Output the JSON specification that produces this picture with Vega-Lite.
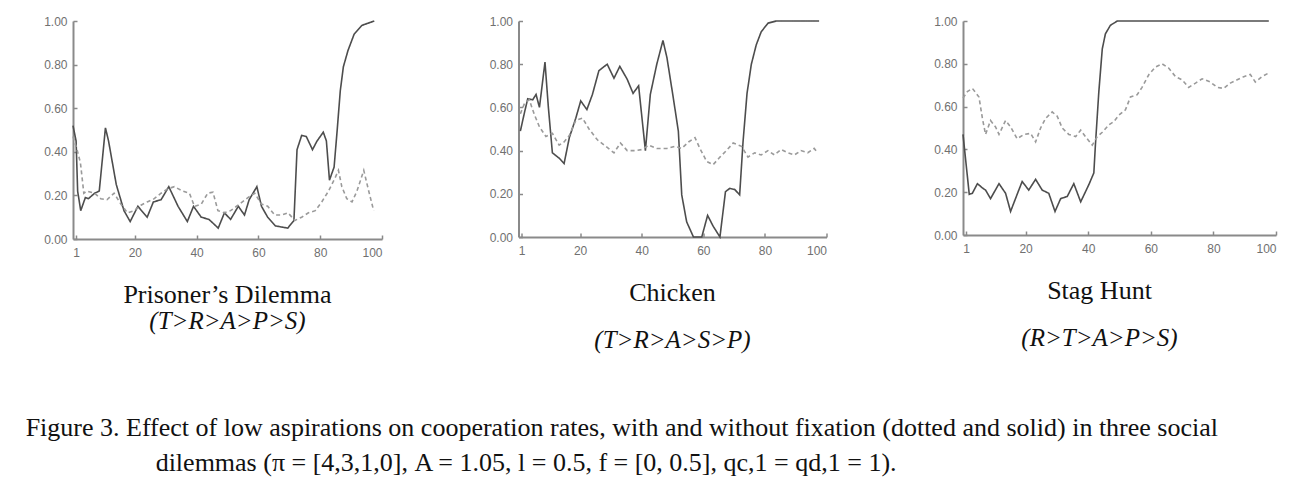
{
  "$schema": "https://vega.github.io/schema/vega-lite/v6.json",
  "padding": {"left": 25, "top": 15, "right": 5, "bottom": 5},
  "background": "white",
  "config": {
    "font": "Liberation Sans",
    "view": {"stroke": null},
    "axis": {"domainColor": "#8a8a8a", "domainWidth": 2, "tickColor": "#8a8a8a", "tickWidth": 1.5, "labelColor": "#707070", "labelFontSize": 12, "grid": false, "title": null},
    "title": {"font": "Liberation Serif", "fontSize": 26, "fontWeight": "normal", "color": "#111111", "orient": "bottom", "frame": "group", "subtitleFont": "Liberation Serif", "subtitleFontSize": 25, "subtitleFontStyle": "italic", "subtitleColor": "#111111"}
  },
  "datasets": {
    "pd": [
      {"t": 0, "v": 0.52, "s": "solid"}, {"t": 1, "v": 0.45, "s": "solid"}, {"t": 1.5, "v": 0.22, "s": "solid"}, {"t": 2.5, "v": 0.13, "s": "solid"},
      {"t": 4, "v": 0.19, "s": "solid"}, {"t": 5, "v": 0.185, "s": "solid"}, {"t": 7, "v": 0.21, "s": "solid"}, {"t": 8.5, "v": 0.22, "s": "solid"},
      {"t": 10.5, "v": 0.51, "s": "solid"}, {"t": 11.5, "v": 0.45, "s": "solid"}, {"t": 14, "v": 0.25, "s": "solid"}, {"t": 16.5, "v": 0.13, "s": "solid"},
      {"t": 18.5, "v": 0.08, "s": "solid"}, {"t": 21, "v": 0.15, "s": "solid"}, {"t": 24, "v": 0.1, "s": "solid"}, {"t": 26, "v": 0.17, "s": "solid"},
      {"t": 28.5, "v": 0.18, "s": "solid"}, {"t": 31, "v": 0.24, "s": "solid"}, {"t": 34, "v": 0.15, "s": "solid"}, {"t": 37, "v": 0.08, "s": "solid"},
      {"t": 39, "v": 0.15, "s": "solid"}, {"t": 41.5, "v": 0.1, "s": "solid"}, {"t": 44, "v": 0.09, "s": "solid"}, {"t": 47, "v": 0.05, "s": "solid"},
      {"t": 49, "v": 0.12, "s": "solid"}, {"t": 51, "v": 0.09, "s": "solid"}, {"t": 53.5, "v": 0.15, "s": "solid"}, {"t": 55.5, "v": 0.11, "s": "solid"},
      {"t": 57, "v": 0.18, "s": "solid"}, {"t": 59.5, "v": 0.24, "s": "solid"}, {"t": 61, "v": 0.15, "s": "solid"}, {"t": 63, "v": 0.1, "s": "solid"},
      {"t": 65.5, "v": 0.06, "s": "solid"}, {"t": 67.5, "v": 0.055, "s": "solid"}, {"t": 69.5, "v": 0.05, "s": "solid"}, {"t": 71.5, "v": 0.085, "s": "solid"},
      {"t": 72.5, "v": 0.41, "s": "solid"}, {"t": 74, "v": 0.475, "s": "solid"}, {"t": 75.5, "v": 0.47, "s": "solid"}, {"t": 77.5, "v": 0.41, "s": "solid"},
      {"t": 79, "v": 0.45, "s": "solid"}, {"t": 81, "v": 0.49, "s": "solid"}, {"t": 82, "v": 0.45, "s": "solid"}, {"t": 83, "v": 0.27, "s": "solid"},
      {"t": 84.5, "v": 0.33, "s": "solid"}, {"t": 85.5, "v": 0.5, "s": "solid"}, {"t": 86.5, "v": 0.68, "s": "solid"}, {"t": 87.5, "v": 0.79, "s": "solid"},
      {"t": 89, "v": 0.865, "s": "solid"}, {"t": 91, "v": 0.94, "s": "solid"}, {"t": 93.5, "v": 0.98, "s": "solid"}, {"t": 97.5, "v": 1.0, "s": "solid"},
      {"t": 0, "v": 0.47, "s": "dotted"}, {"t": 1.3, "v": 0.41, "s": "dotted"}, {"t": 2.4, "v": 0.35, "s": "dotted"}, {"t": 3.5, "v": 0.21, "s": "dotted"},
      {"t": 4.5, "v": 0.22, "s": "dotted"}, {"t": 7, "v": 0.21, "s": "dotted"}, {"t": 9, "v": 0.185, "s": "dotted"}, {"t": 11, "v": 0.18, "s": "dotted"},
      {"t": 13.3, "v": 0.21, "s": "dotted"}, {"t": 15.5, "v": 0.16, "s": "dotted"}, {"t": 17.6, "v": 0.12, "s": "dotted"}, {"t": 19.8, "v": 0.13, "s": "dotted"},
      {"t": 22, "v": 0.155, "s": "dotted"}, {"t": 24, "v": 0.17, "s": "dotted"}, {"t": 26.3, "v": 0.185, "s": "dotted"}, {"t": 28.5, "v": 0.21, "s": "dotted"},
      {"t": 30.6, "v": 0.23, "s": "dotted"}, {"t": 32.8, "v": 0.24, "s": "dotted"}, {"t": 35.5, "v": 0.22, "s": "dotted"}, {"t": 37.7, "v": 0.21, "s": "dotted"},
      {"t": 39.3, "v": 0.15, "s": "dotted"}, {"t": 41.5, "v": 0.16, "s": "dotted"}, {"t": 43.6, "v": 0.21, "s": "dotted"}, {"t": 45.3, "v": 0.215, "s": "dotted"},
      {"t": 46.9, "v": 0.13, "s": "dotted"}, {"t": 49, "v": 0.12, "s": "dotted"}, {"t": 51, "v": 0.13, "s": "dotted"}, {"t": 53.4, "v": 0.155, "s": "dotted"},
      {"t": 56.6, "v": 0.19, "s": "dotted"}, {"t": 58.8, "v": 0.21, "s": "dotted"}, {"t": 61, "v": 0.16, "s": "dotted"}, {"t": 63, "v": 0.15, "s": "dotted"},
      {"t": 65.3, "v": 0.11, "s": "dotted"}, {"t": 67.5, "v": 0.11, "s": "dotted"}, {"t": 69.6, "v": 0.12, "s": "dotted"}, {"t": 71.8, "v": 0.085, "s": "dotted"},
      {"t": 74, "v": 0.1, "s": "dotted"}, {"t": 76.2, "v": 0.12, "s": "dotted"}, {"t": 78.4, "v": 0.13, "s": "dotted"}, {"t": 80.5, "v": 0.17, "s": "dotted"},
      {"t": 82.7, "v": 0.22, "s": "dotted"}, {"t": 84.8, "v": 0.28, "s": "dotted"}, {"t": 85.9, "v": 0.315, "s": "dotted"}, {"t": 87, "v": 0.24, "s": "dotted"},
      {"t": 88.6, "v": 0.185, "s": "dotted"}, {"t": 90.3, "v": 0.17, "s": "dotted"}, {"t": 91.9, "v": 0.22, "s": "dotted"}, {"t": 94.1, "v": 0.315, "s": "dotted"},
      {"t": 95.7, "v": 0.22, "s": "dotted"}, {"t": 97.3, "v": 0.13, "s": "dotted"}
    ],
    "chicken": [
      {"t": 0.6, "v": 0.49, "s": "solid"}, {"t": 2, "v": 0.58, "s": "solid"}, {"t": 3, "v": 0.64, "s": "solid"}, {"t": 4.6, "v": 0.635, "s": "solid"},
      {"t": 5.7, "v": 0.66, "s": "solid"}, {"t": 6.8, "v": 0.6, "s": "solid"}, {"t": 8.6, "v": 0.81, "s": "solid"}, {"t": 9.7, "v": 0.6, "s": "solid"},
      {"t": 11, "v": 0.39, "s": "solid"}, {"t": 13.2, "v": 0.365, "s": "solid"}, {"t": 14.8, "v": 0.34, "s": "solid"}, {"t": 16.5, "v": 0.46, "s": "solid"},
      {"t": 18.6, "v": 0.55, "s": "solid"}, {"t": 20.2, "v": 0.63, "s": "solid"}, {"t": 22.2, "v": 0.59, "s": "solid"}, {"t": 24, "v": 0.66, "s": "solid"},
      {"t": 26.1, "v": 0.77, "s": "solid"}, {"t": 28.8, "v": 0.8, "s": "solid"}, {"t": 31, "v": 0.735, "s": "solid"}, {"t": 32.9, "v": 0.79, "s": "solid"},
      {"t": 35.3, "v": 0.73, "s": "solid"}, {"t": 37.2, "v": 0.665, "s": "solid"}, {"t": 39, "v": 0.7, "s": "solid"}, {"t": 41.2, "v": 0.4, "s": "solid"},
      {"t": 42.8, "v": 0.66, "s": "solid"}, {"t": 44.9, "v": 0.8, "s": "solid"}, {"t": 46.9, "v": 0.91, "s": "solid"}, {"t": 48.2, "v": 0.83, "s": "solid"},
      {"t": 50.3, "v": 0.64, "s": "solid"}, {"t": 51.9, "v": 0.49, "s": "solid"}, {"t": 53, "v": 0.195, "s": "solid"}, {"t": 54.6, "v": 0.07, "s": "solid"},
      {"t": 56.8, "v": 0.0, "s": "solid"}, {"t": 59.5, "v": 0.0, "s": "solid"}, {"t": 61.4, "v": 0.1, "s": "solid"}, {"t": 63.2, "v": 0.05, "s": "solid"},
      {"t": 65.4, "v": 0.0, "s": "solid"}, {"t": 67.2, "v": 0.21, "s": "solid"}, {"t": 68.6, "v": 0.225, "s": "solid"}, {"t": 70.2, "v": 0.22, "s": "solid"},
      {"t": 71.8, "v": 0.195, "s": "solid"}, {"t": 72.9, "v": 0.44, "s": "solid"}, {"t": 74.2, "v": 0.665, "s": "solid"}, {"t": 75.6, "v": 0.8, "s": "solid"},
      {"t": 77.2, "v": 0.89, "s": "solid"}, {"t": 78.8, "v": 0.95, "s": "solid"}, {"t": 81, "v": 0.99, "s": "solid"}, {"t": 83.7, "v": 1.0, "s": "solid"},
      {"t": 97.6, "v": 1.0, "s": "solid"},
      {"t": 0.6, "v": 0.57, "s": "dotted"}, {"t": 2, "v": 0.62, "s": "dotted"}, {"t": 3.5, "v": 0.635, "s": "dotted"}, {"t": 5.2, "v": 0.565, "s": "dotted"},
      {"t": 6.8, "v": 0.51, "s": "dotted"}, {"t": 8.9, "v": 0.465, "s": "dotted"}, {"t": 11, "v": 0.48, "s": "dotted"}, {"t": 13.2, "v": 0.425, "s": "dotted"},
      {"t": 14.8, "v": 0.44, "s": "dotted"}, {"t": 16.5, "v": 0.47, "s": "dotted"}, {"t": 18.6, "v": 0.54, "s": "dotted"}, {"t": 20.8, "v": 0.55, "s": "dotted"},
      {"t": 22.9, "v": 0.5, "s": "dotted"}, {"t": 25.6, "v": 0.45, "s": "dotted"}, {"t": 28.3, "v": 0.42, "s": "dotted"}, {"t": 31, "v": 0.39, "s": "dotted"},
      {"t": 33.1, "v": 0.435, "s": "dotted"}, {"t": 35.3, "v": 0.4, "s": "dotted"}, {"t": 38, "v": 0.4, "s": "dotted"}, {"t": 40.1, "v": 0.405, "s": "dotted"},
      {"t": 42.3, "v": 0.425, "s": "dotted"}, {"t": 44.9, "v": 0.41, "s": "dotted"}, {"t": 48.2, "v": 0.41, "s": "dotted"}, {"t": 50.8, "v": 0.42, "s": "dotted"},
      {"t": 53, "v": 0.41, "s": "dotted"}, {"t": 55.2, "v": 0.44, "s": "dotted"}, {"t": 57.3, "v": 0.46, "s": "dotted"}, {"t": 58.9, "v": 0.41, "s": "dotted"},
      {"t": 61.1, "v": 0.35, "s": "dotted"}, {"t": 63.2, "v": 0.335, "s": "dotted"}, {"t": 65.4, "v": 0.37, "s": "dotted"}, {"t": 67.5, "v": 0.4, "s": "dotted"},
      {"t": 69.7, "v": 0.435, "s": "dotted"}, {"t": 72.4, "v": 0.42, "s": "dotted"}, {"t": 74.5, "v": 0.37, "s": "dotted"}, {"t": 76.7, "v": 0.39, "s": "dotted"},
      {"t": 78.8, "v": 0.38, "s": "dotted"}, {"t": 81, "v": 0.4, "s": "dotted"}, {"t": 83.1, "v": 0.38, "s": "dotted"}, {"t": 85.3, "v": 0.405, "s": "dotted"},
      {"t": 87.4, "v": 0.39, "s": "dotted"}, {"t": 89.6, "v": 0.38, "s": "dotted"}, {"t": 91.7, "v": 0.4, "s": "dotted"}, {"t": 93.9, "v": 0.39, "s": "dotted"},
      {"t": 96, "v": 0.41, "s": "dotted"}, {"t": 96.8, "v": 0.395, "s": "dotted"}
    ],
    "stag": [
      {"t": 0, "v": 0.47, "s": "solid"}, {"t": 1, "v": 0.33, "s": "solid"}, {"t": 2, "v": 0.19, "s": "solid"}, {"t": 3, "v": 0.195, "s": "solid"},
      {"t": 4.6, "v": 0.24, "s": "solid"}, {"t": 6.2, "v": 0.22, "s": "solid"}, {"t": 7.2, "v": 0.21, "s": "solid"}, {"t": 8.8, "v": 0.17, "s": "solid"},
      {"t": 11.5, "v": 0.24, "s": "solid"}, {"t": 13.6, "v": 0.195, "s": "solid"}, {"t": 15.2, "v": 0.11, "s": "solid"}, {"t": 17.3, "v": 0.19, "s": "solid"},
      {"t": 18.9, "v": 0.25, "s": "solid"}, {"t": 21, "v": 0.21, "s": "solid"}, {"t": 23.2, "v": 0.26, "s": "solid"}, {"t": 25.3, "v": 0.21, "s": "solid"},
      {"t": 27.4, "v": 0.195, "s": "solid"}, {"t": 29.4, "v": 0.11, "s": "solid"}, {"t": 31.2, "v": 0.17, "s": "solid"}, {"t": 33.3, "v": 0.18, "s": "solid"},
      {"t": 35.4, "v": 0.24, "s": "solid"}, {"t": 37.6, "v": 0.155, "s": "solid"}, {"t": 40.2, "v": 0.235, "s": "solid"}, {"t": 41.8, "v": 0.29, "s": "solid"},
      {"t": 42.3, "v": 0.42, "s": "solid"}, {"t": 43.4, "v": 0.67, "s": "solid"}, {"t": 44.5, "v": 0.87, "s": "solid"}, {"t": 45.5, "v": 0.94, "s": "solid"},
      {"t": 47.1, "v": 0.98, "s": "solid"}, {"t": 49.3, "v": 1.0, "s": "solid"}, {"t": 97.7, "v": 1.0, "s": "solid"},
      {"t": 0, "v": 0.64, "s": "dotted"}, {"t": 1.4, "v": 0.67, "s": "dotted"}, {"t": 3, "v": 0.685, "s": "dotted"}, {"t": 5.1, "v": 0.645, "s": "dotted"},
      {"t": 6.2, "v": 0.545, "s": "dotted"}, {"t": 7.2, "v": 0.47, "s": "dotted"}, {"t": 8.8, "v": 0.535, "s": "dotted"}, {"t": 10.4, "v": 0.505, "s": "dotted"},
      {"t": 11.5, "v": 0.47, "s": "dotted"}, {"t": 13.6, "v": 0.535, "s": "dotted"}, {"t": 15.2, "v": 0.505, "s": "dotted"}, {"t": 17.3, "v": 0.45, "s": "dotted"},
      {"t": 19.5, "v": 0.47, "s": "dotted"}, {"t": 21.6, "v": 0.475, "s": "dotted"}, {"t": 23.2, "v": 0.435, "s": "dotted"}, {"t": 24.8, "v": 0.5, "s": "dotted"},
      {"t": 26.4, "v": 0.545, "s": "dotted"}, {"t": 28.5, "v": 0.575, "s": "dotted"}, {"t": 30.1, "v": 0.555, "s": "dotted"}, {"t": 31.7, "v": 0.5, "s": "dotted"},
      {"t": 33.8, "v": 0.47, "s": "dotted"}, {"t": 36, "v": 0.46, "s": "dotted"}, {"t": 37.6, "v": 0.49, "s": "dotted"}, {"t": 39.1, "v": 0.46, "s": "dotted"},
      {"t": 41.3, "v": 0.42, "s": "dotted"}, {"t": 42.9, "v": 0.46, "s": "dotted"}, {"t": 44.5, "v": 0.48, "s": "dotted"}, {"t": 46.6, "v": 0.515, "s": "dotted"},
      {"t": 48.2, "v": 0.53, "s": "dotted"}, {"t": 49.8, "v": 0.56, "s": "dotted"}, {"t": 51.9, "v": 0.585, "s": "dotted"}, {"t": 53.5, "v": 0.645, "s": "dotted"},
      {"t": 55.6, "v": 0.655, "s": "dotted"}, {"t": 57.2, "v": 0.69, "s": "dotted"}, {"t": 59.4, "v": 0.75, "s": "dotted"}, {"t": 61.5, "v": 0.785, "s": "dotted"},
      {"t": 63.6, "v": 0.8, "s": "dotted"}, {"t": 65.7, "v": 0.78, "s": "dotted"}, {"t": 67.9, "v": 0.74, "s": "dotted"}, {"t": 70, "v": 0.725, "s": "dotted"},
      {"t": 72.1, "v": 0.69, "s": "dotted"}, {"t": 74.3, "v": 0.71, "s": "dotted"}, {"t": 76.4, "v": 0.73, "s": "dotted"}, {"t": 79, "v": 0.715, "s": "dotted"},
      {"t": 81.2, "v": 0.69, "s": "dotted"}, {"t": 83.3, "v": 0.685, "s": "dotted"}, {"t": 85.4, "v": 0.71, "s": "dotted"}, {"t": 87.6, "v": 0.725, "s": "dotted"},
      {"t": 89.7, "v": 0.74, "s": "dotted"}, {"t": 91.8, "v": 0.75, "s": "dotted"}, {"t": 93.4, "v": 0.715, "s": "dotted"}, {"t": 95.5, "v": 0.74, "s": "dotted"},
      {"t": 97.4, "v": 0.755, "s": "dotted"}
    ]
  },
  "bounds": "flush",
  "spacing": 136.5,
  "title": {
    "text": ["Figure 3. Effect of low aspirations on cooperation rates, with and without fixation (dotted  and solid) in three social", "\u200b\u00a0\u00a0\u00a0\u00a0\u00a0\u00a0\u00a0\u00a0\u00a0\u00a0\u00a0\u00a0\u00a0\u00a0\u00a0\u00a0\u00a0\u00a0\u00a0\u00a0dilemmas (π = [4,3,1,0], A = 1.05, l = 0.5, f = [0, 0.5], qc,1 = qd,1 = 1)."],
    "orient": "bottom", "anchor": "start", "frame": "bounds", "font": "Liberation Serif", "fontSize": 26, "fontWeight": "normal", "fontStyle": "normal", "color": "#111111", "lineHeight": 35, "offset": 62, "dx": -18
  },
  "hconcat": [
    {
      "width": 309, "height": 218,
      "data": {"name": "pd"},
      "title": {"text": "Prisoner’s Dilemma", "subtitle": "(T>R>A>P>S)", "offset": 24, "subtitlePadding": 1},
      "mark": {"type": "line", "strokeWidth": 1.6},
      "encoding": {
        "x": {"field": "t", "type": "quantitative", "scale": {"domain": [0, 100], "nice": false}, "axis": {"values": [1, 20, 40, 60, 80, 100], "format": "d", "labelDx": 3, "tickSize": -4, "labelPadding": 12}},
        "y": {"field": "v", "type": "quantitative", "scale": {"domain": [0, 1]}, "axis": {"values": [0, 0.2, 0.4, 0.6, 0.8, 1], "format": ".2f", "labelDy": 7, "tickSize": -4, "labelPadding": 10}},
        "strokeDash": {"field": "s", "type": "nominal", "scale": {"domain": ["solid", "dotted"], "range": [[1, 0], [4, 3]]}, "legend": null},
        "color": {"field": "s", "type": "nominal", "scale": {"domain": ["solid", "dotted"], "range": ["#4d4d4d", "#9a9a9a"]}, "legend": null}
      }
    },
    {
      "width": 308, "height": 216,
      "data": {"name": "chicken"},
      "title": {"text": "Chicken", "subtitle": "(T>R>A>S>P)", "offset": 24, "subtitlePadding": 22},
      "mark": {"type": "line", "strokeWidth": 1.6},
      "encoding": {
        "x": {"field": "t", "type": "quantitative", "scale": {"domain": [0, 100], "nice": false}, "axis": {"values": [1, 20, 40, 60, 80, 100], "format": "d", "labelDx": 3, "tickSize": -4, "labelPadding": 12}},
        "y": {"field": "v", "type": "quantitative", "scale": {"domain": [0, 1]}, "axis": {"values": [0, 0.2, 0.4, 0.6, 0.8, 1], "format": ".2f", "labelDy": 7, "tickSize": -4, "labelPadding": 10}},
        "strokeDash": {"field": "s", "type": "nominal", "scale": {"domain": ["solid", "dotted"], "range": [[1, 0], [4, 3]]}, "legend": null},
        "color": {"field": "s", "type": "nominal", "scale": {"domain": ["solid", "dotted"], "range": ["#4d4d4d", "#9a9a9a"]}, "legend": null}
      }
    },
    {
      "width": 313, "height": 214,
      "data": {"name": "stag"},
      "title": {"text": "Stag Hunt", "subtitle": "(R>T>A>P>S)", "offset": 24, "subtitlePadding": 22, "dx": -20},
      "mark": {"type": "line", "strokeWidth": 1.6},
      "encoding": {
        "x": {"field": "t", "type": "quantitative", "scale": {"domain": [0, 100], "nice": false}, "axis": {"values": [1, 20, 40, 60, 80, 100], "format": "d", "labelDx": 3, "tickSize": -4, "labelPadding": 12}},
        "y": {"field": "v", "type": "quantitative", "scale": {"domain": [0, 1]}, "axis": {"values": [0, 0.2, 0.4, 0.6, 0.8, 1], "format": ".2f", "labelDy": 7, "tickSize": -4, "labelPadding": 10}},
        "strokeDash": {"field": "s", "type": "nominal", "scale": {"domain": ["solid", "dotted"], "range": [[1, 0], [4, 3]]}, "legend": null},
        "color": {"field": "s", "type": "nominal", "scale": {"domain": ["solid", "dotted"], "range": ["#4d4d4d", "#9a9a9a"]}, "legend": null}
      }
    }
  ]
}
